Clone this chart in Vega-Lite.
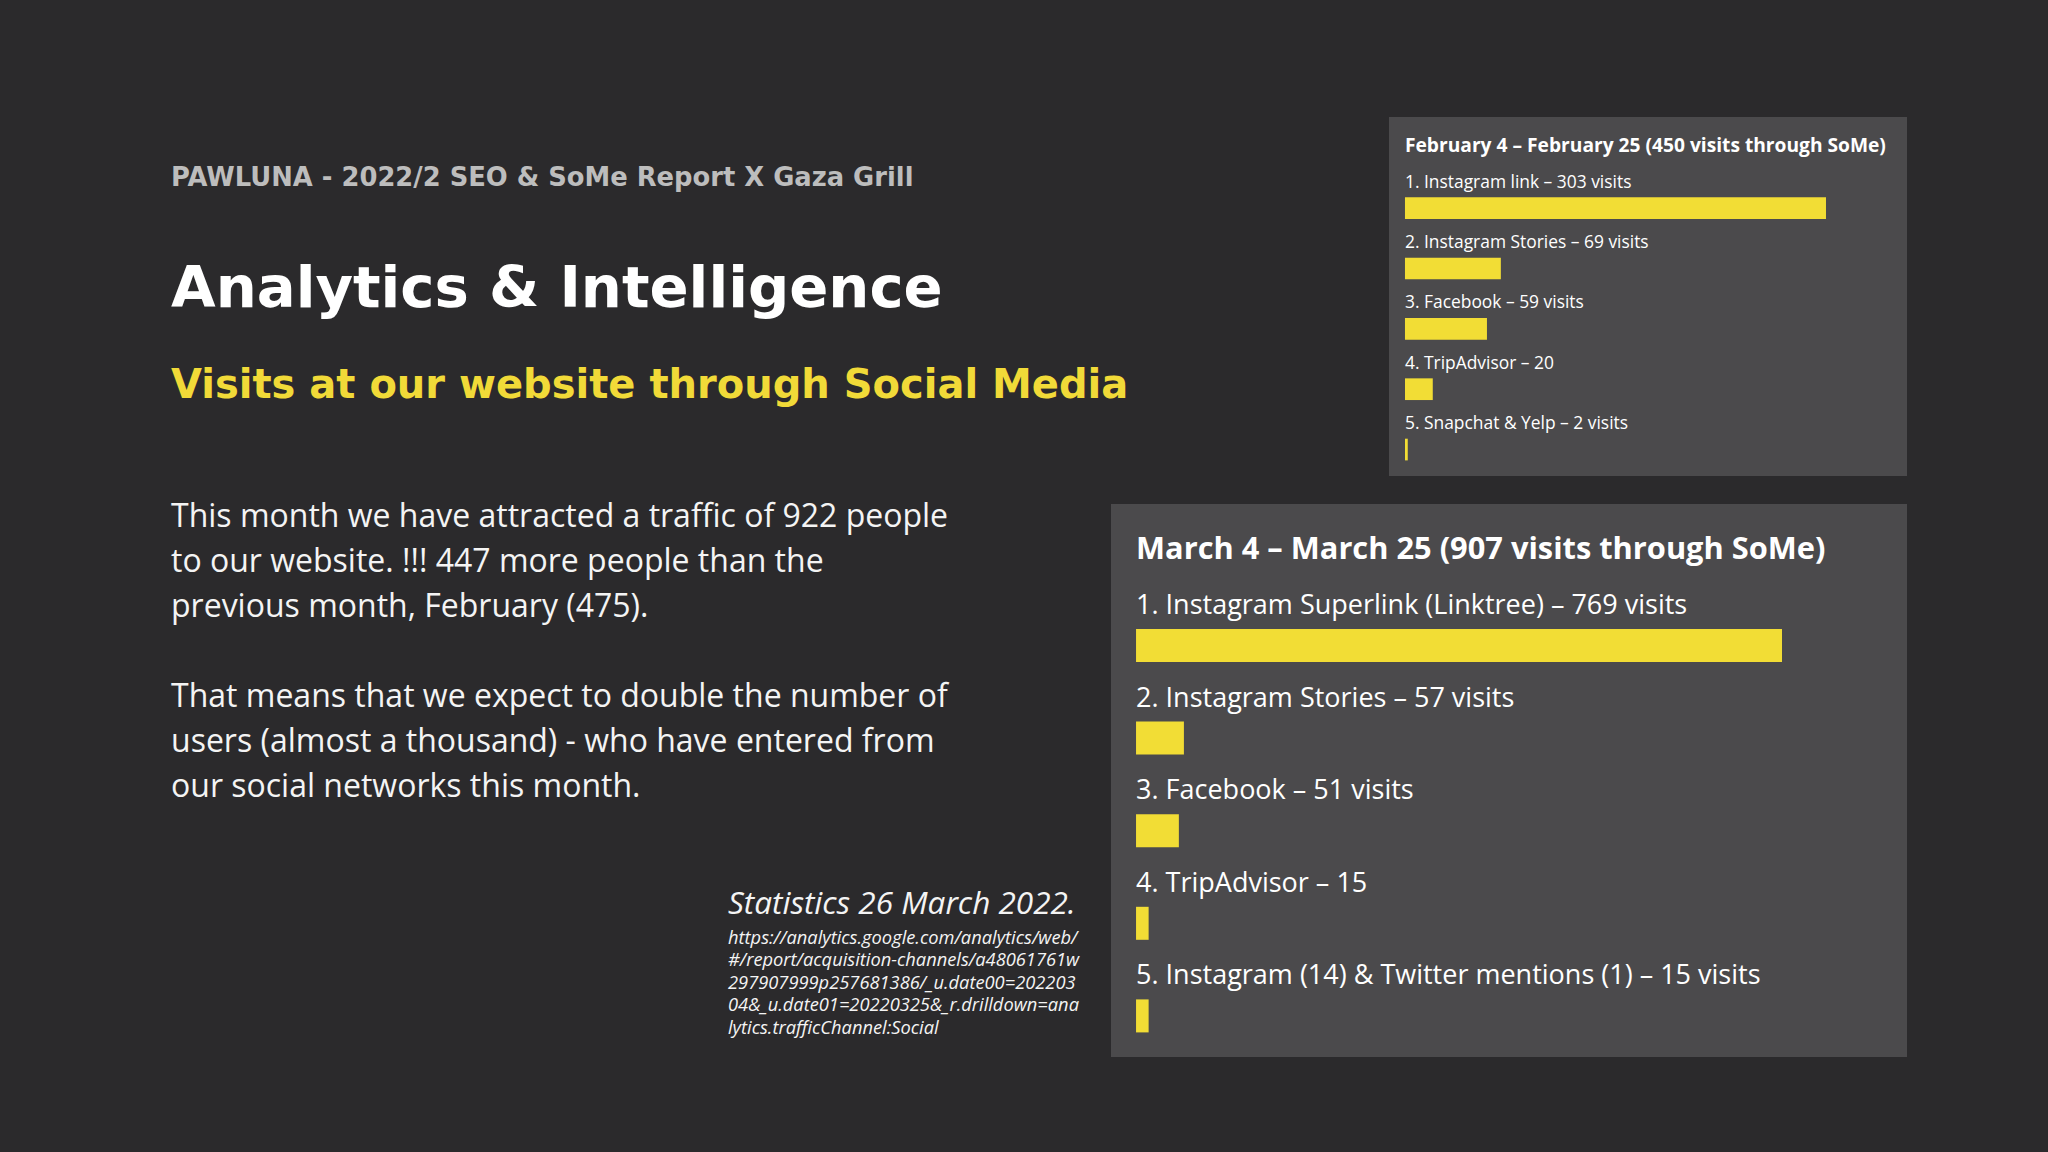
{
  "$schema": "https://vega.github.io/schema/vega-lite/v6.json",
  "background": "#2b2a2c",
  "padding": {"left": 171, "top": 117, "right": 141, "bottom": 95},
  "config": {"view": {"stroke": null}},
  "spacing": 24,
  "vconcat": [
    {
      "hconcat": [
        {
          "vconcat": [
            {
              "width": 1198, "height": 138,
              "data": {"values": [{"text": "PAWLUNA - 2022/2 SEO & SoMe Report X Gaza Grill"}]},
              "mark": {"type": "text", "align": "left", "baseline": "alphabetic", "font": "DejaVu Sans", "fontWeight": "bold", "fontSize": 25.8, "color": "#bdbdbd"},
              "encoding": {
                "text": {"field": "text", "type": "nominal"},
                "x": {"datum": 0, "type": "quantitative", "scale": {"domain": [0, 1]}, "axis": null}
              }
            },
            {
              "width": 1198, "height": 104,
              "data": {"values": [{"text": "Analytics & Intelligence"}]},
              "mark": {"type": "text", "align": "left", "baseline": "alphabetic", "font": "DejaVu Sans", "fontWeight": "bold", "fontSize": 57.7, "color": "#ffffff"},
              "encoding": {
                "text": {"field": "text", "type": "nominal"},
                "x": {"datum": 0, "type": "quantitative", "scale": {"domain": [0, 1]}, "axis": null}
              }
            },
            {
              "width": 1198, "height": 78,
              "data": {"values": [{"text": "Visits at our website through Social Media"}]},
              "mark": {"type": "text", "align": "left", "baseline": "alphabetic", "font": "DejaVu Sans", "fontWeight": "bold", "fontSize": 40, "color": "#f1da38"},
              "encoding": {
                "text": {"field": "text", "type": "nominal"},
                "x": {"datum": 0, "type": "quantitative", "scale": {"domain": [0, 1]}, "axis": null}
              }
            }
          ],
          "spacing": 0
        },
        {
          "width": 518, "height": 359,
          "view": {"fill": "#4b4a4c", "stroke": null},
          "layer": [
            {
              "data": {"values": [
                {"rank": 1, "label": "1. Instagram link – 303 visits", "visits": 303},
                {"rank": 2, "label": "2. Instagram Stories – 69 visits", "visits": 69},
                {"rank": 3, "label": "3. Facebook – 59 visits", "visits": 59},
                {"rank": 4, "label": "4. TripAdvisor – 20", "visits": 20},
                {"rank": 5, "label": "5. Snapchat & Yelp – 2 visits", "visits": 2}
              ]},
              "layer": [
                {
                  "mark": {"type": "bar", "color": "#f2dd35"},
                  "encoding": {
                    "x": {"field": "visits", "type": "quantitative", "scale": {"domain": [-11.5, 361.3], "nice": false, "zero": false}, "axis": null},
                    "y": {"field": "rank", "type": "ordinal", "axis": null, "scale": {"paddingInner": 0.6404, "paddingOuter": 0.7945, "align": 0.8373}}
                  }
                },
                {
                  "mark": {"type": "text", "align": "left", "baseline": "alphabetic", "dy": -20.35, "font": "Open Sans", "fontSize": 17.4, "color": "#ffffff"},
                  "encoding": {
                    "x": {"datum": 0, "type": "quantitative", "axis": null},
                    "y": {"field": "rank", "type": "ordinal", "axis": null},
                    "text": {"field": "label", "type": "nominal"}
                  }
                }
              ]
            },
            {
              "data": {"values": [{"title": "February 4 – February 25 (450 visits through SoMe)"}]},
              "mark": {"type": "text", "align": "left", "baseline": "alphabetic", "dy": -56.45, "font": "Open Sans", "fontWeight": "bold", "fontSize": 19.2, "color": "#ffffff"},
              "encoding": {
                "x": {"datum": 0, "type": "quantitative", "axis": null},
                "y": {"datum": 1, "type": "ordinal", "axis": null},
                "text": {"field": "title", "type": "nominal"}
              }
            }
          ]
        }
      ],
      "spacing": 20
    },
    {
      "hconcat": [
        {
          "vconcat": [
            {
              "width": 940, "height": 331,
              "data": {"values": [
                {"line": 1, "text": "This month we have attracted a traffic of 922 people"},
                {"line": 2, "text": "to our website. !!! 447 more people than the"},
                {"line": 3, "text": "previous month, February (475)."},
                {"line": 5, "text": "That means that we expect to double the number of"},
                {"line": 6, "text": "users (almost a thousand) - who have entered from"},
                {"line": 7, "text": "our social networks this month."}
              ]},
              "mark": {"type": "text", "align": "left", "baseline": "alphabetic", "font": "Open Sans", "fontSize": 32, "color": "#f4f4f4"},
              "encoding": {
                "text": {"field": "text", "type": "nominal"},
                "x": {"datum": 0, "type": "quantitative", "scale": {"domain": [0, 1]}, "axis": null},
                "y": {"field": "line", "type": "ordinal", "axis": null, "scale": {"type": "band", "domain": [1, 2, 3, 4, 5, 6, 7], "paddingInner": 0, "paddingOuter": 0.1778, "align": 0.03125}}
              }
            },
            {
              "hconcat": [
                {
                  "width": 557, "height": 1,
                  "data": {"values": []},
                  "mark": {"type": "text"},
                  "encoding": {}
                },
                {
                  "width": 383, "height": 157,
                  "layer": [
                    {
                      "data": {"values": [
                        {"line": 1, "text": "https://analytics.google.com/analytics/web/"},
                        {"line": 2, "text": "#/report/acquisition-channels/a48061761w"},
                        {"line": 3, "text": "297907999p257681386/_u.date00=202203"},
                        {"line": 4, "text": "04&_u.date01=20220325&_r.drilldown=ana"},
                        {"line": 5, "text": "lytics.trafficChannel:Social"}
                      ]},
                      "mark": {"type": "text", "align": "left", "baseline": "alphabetic", "font": "Open Sans", "fontStyle": "italic", "fontSize": 18.3, "color": "#f4f4f4"},
                      "encoding": {
                        "text": {"field": "text", "type": "nominal"},
                        "x": {"datum": 0, "type": "quantitative", "scale": {"domain": [0, 1]}, "axis": null},
                        "y": {"field": "line", "type": "ordinal", "axis": null, "scale": {"type": "band", "paddingInner": 0, "paddingOuter": 1.1175, "align": 0.9526}}
                      }
                    },
                    {
                      "data": {"values": [{"text": "Statistics 26 March 2022."}]},
                      "mark": {"type": "text", "align": "left", "baseline": "alphabetic", "dy": -30.05, "font": "Open Sans", "fontStyle": "italic", "fontSize": 31.5, "color": "#f4f4f4"},
                      "encoding": {
                        "text": {"field": "text", "type": "nominal"},
                        "x": {"datum": 0, "type": "quantitative", "axis": null},
                        "y": {"datum": 1, "type": "ordinal", "axis": null}
                      }
                    }
                  ]
                }
              ],
              "spacing": 0
            }
          ],
          "spacing": 53
        },
        {
          "width": 796, "height": 553,
          "view": {"fill": "#4b4a4c", "stroke": null},
          "layer": [
            {
              "data": {"values": [
                {"rank": 1, "label": "1. Instagram Superlink (Linktree) – 769 visits", "visits": 769},
                {"rank": 2, "label": "2. Instagram Stories – 57 visits", "visits": 57},
                {"rank": 3, "label": "3. Facebook – 51 visits", "visits": 51},
                {"rank": 4, "label": "4. TripAdvisor – 15", "visits": 15},
                {"rank": 5, "label": "5. Instagram (14) & Twitter mentions (1) – 15 visits", "visits": 15}
              ]},
              "layer": [
                {
                  "mark": {"type": "bar", "color": "#f2dd35"},
                  "encoding": {
                    "x": {"field": "visits", "type": "quantitative", "scale": {"domain": [-29.8, 917.8], "nice": false, "zero": false}, "axis": null},
                    "y": {"field": "rank", "type": "ordinal", "axis": null, "scale": {"paddingInner": 0.6436, "paddingOuter": 0.8078, "align": 0.8356}}
                  }
                },
                {
                  "mark": {"type": "text", "align": "left", "baseline": "alphabetic", "dy": -31.5, "font": "Open Sans", "fontSize": 27, "color": "#ffffff"},
                  "encoding": {
                    "x": {"datum": 0, "type": "quantitative", "axis": null},
                    "y": {"field": "rank", "type": "ordinal", "axis": null},
                    "text": {"field": "label", "type": "nominal"}
                  }
                }
              ]
            },
            {
              "data": {"values": [{"title": "March 4 – March 25 (907 visits through SoMe)"}]},
              "mark": {"type": "text", "align": "left", "baseline": "alphabetic", "dy": -86.5, "font": "Open Sans", "fontWeight": "bold", "fontSize": 30.8, "color": "#ffffff"},
              "encoding": {
                "x": {"datum": 0, "type": "quantitative", "axis": null},
                "y": {"datum": 1, "type": "ordinal", "axis": null},
                "text": {"field": "title", "type": "nominal"}
              }
            }
          ]
        }
      ],
      "spacing": 0
    }
  ]
}
